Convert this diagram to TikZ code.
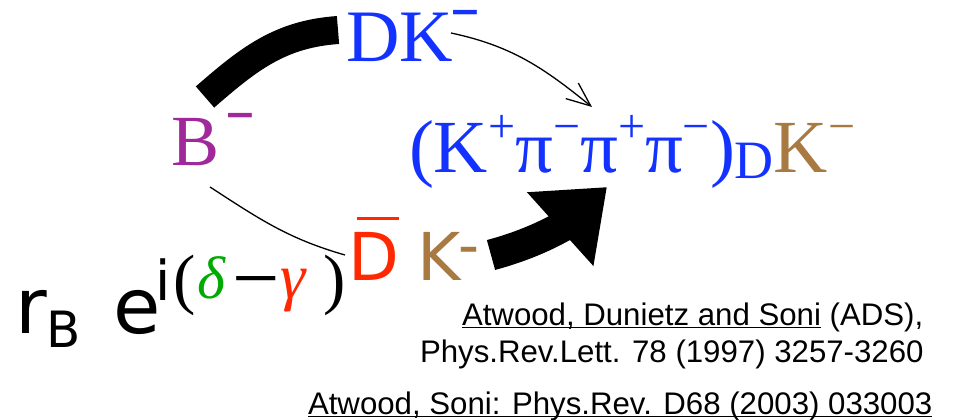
\documentclass[tikz,border=0pt]{standalone}
\usepackage{fontspec}
\setmainfont{Liberation Serif}
\newfontfamily\sansf{Liberation Sans}
\newfontfamily\dejavu{DejaVu Sans}
\usetikzlibrary{arrows.meta}
\definecolor{blueC}{RGB}{20,50,255}
\definecolor{purpleC}{RGB}{160,40,155}
\definecolor{redC}{RGB}{255,40,0}
\definecolor{brownC}{RGB}{168,122,66}
\definecolor{greenC}{RGB}{0,170,0}
\newcommand\fsz[1]{\fontsize{#1}{#1}\selectfont}
\newcommand\sups[1]{\raisebox{30pt}{\fsz{48}#1}}
\newcommand\ulx[1]{\setbox0\hbox{#1}\rlap{\rule[-3.2pt]{\wd0}{1.6pt}}\box0}
\tikzset{
  txt/.style={inner sep=0pt, outer sep=0pt, anchor=base west},
  ref/.style={txt, font=\sansf\fsz{31.2}},
  barm/.style={txt, font=\dejavu\bfseries\fsz{38}},
  thickarc/.style={line width=28pt, line cap=butt},
  thinline/.style={line width=1.3pt},
  fatarrow/.style={line width=31pt, line cap=butt, -{Triangle[length=63pt,width=95pt]}},
}
\begin{document}
\begin{tikzpicture}[x=1pt,y=1pt]
\useasboundingbox (0,0) rectangle (956,-420);
% particle labels
\node[txt, text=blueC, font=\fsz{74}] (dk) at (346,-62) {DK};
\node[barm, text=blueC] (dkm) at (449,-25) {−};
\node[txt, text=purpleC, font=\fsz{72}] (b) at (171,-165) {B};
\node[barm, text=purpleC] (bm) at (224,-128) {−};
\node[txt, text=blueC, font=\fsz{75}] (final) at (409,-172)
  {(K\sups{+}π\sups{−}π\sups{+}π\sups{−})\raisebox{-6pt}{\fsz{54}D}\textcolor{brownC}{K\sups{−}}};
\node[txt, text=redC, font=\dejavu\fsz{66}] (dbar) at (348.4,-280)
  {\rlap{\hspace*{8.6pt}\raisebox{60pt}{\rule{42pt}{3pt}}}D};
\node[txt, text=brownC, font=\dejavu\fsz{66}] (k) at (417,-280) {K};
\node[txt, text=brownC, font=\sansf\fsz{63}] (km) at (458,-266) {-};
% amplitude factor
\node[txt, font=\dejavu\fsz{77}] (r) at (16,-333) {r};
\node[txt, font=\dejavu\fsz{50}] (rb) at (46,-347) {B};
\node[txt, font=\dejavu\fsz{77}] (e) at (113,-333) {e};
\node[txt, font=\dejavu\fsz{55}] (ei) at (155,-300) {i};
\node[txt, font=\fsz{67}] (po) at (173,-301) {(};
\node[txt, text=greenC, font=\itshape\fsz{60}] (delta) at (197,-298) {δ};
\node[txt, font=\fsz{84}] (mn) at (232,-306) {−};
\node[txt, text=redC, font=\itshape\fsz{64}] (gamma) at (280,-298) {γ};
\node[txt, font=\fsz{67}] (pc) at (323,-301) {)};
% references
\node[ref] (ref1) at (462,-325) {\ulx{Atwood, Dunietz and Soni}\ (ADS),};
\node[ref] (ref2) at (420,-362) {Phys.Rev.Lett. 78 (1997) 3257-3260};
\node[ref] (ref3) at (308,-414) {\ulx{Atwood, Soni: Phys.Rev. D68 (2003) 033003}};
% connector end points
\coordinate (bArc) at (205,-97);
\coordinate (dkArc) at (338,-30);
\coordinate (dkOut) at (451,-33);
\coordinate (finalTop) at (592,-107);
\coordinate (bLow) at (210,-187);
\coordinate (dbarIn) at (345,-255);
\coordinate (kOut) at (491,-255);
\coordinate (finalLow) at (607,-187);
% connectors
\draw[thickarc] (bArc) to[out=41,in=184] (dkArc);
\draw[thinline, -{Straight Barb[length=24pt,width=20pt]}] (dkOut) to[out=-12,in=141] (finalTop);
\draw[thinline] (bLow) to[out=-33,in=164] (dbarIn);
\draw[fatarrow] (kOut) to[out=15,in=222] (finalLow);
\end{tikzpicture}
\end{document}
